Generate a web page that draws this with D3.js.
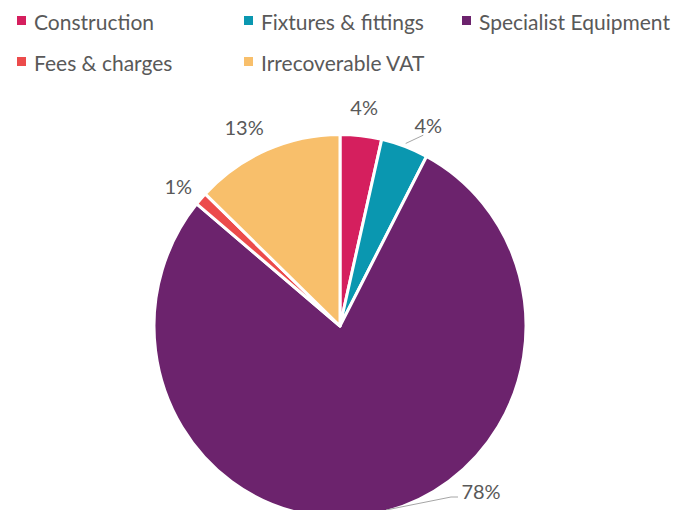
<!DOCTYPE html>
<html>
<head>
<meta charset="utf-8">
<script src="https://cdn.jsdelivr.net/npm/d3@7"></script>
<style>
  html, body { margin: 0; padding: 0; background: #fff; }
  svg { display: block; font-family: Lato, "Open Sans", sans-serif; }
</style>
</head>
<body>
<svg id="chart" width="675" height="510"></svg>
<script>
// data (share of cost, %)
var categories = ["Construction", "Fixtures & fittings", "Specialist Equipment", "Fees & charges", "Irrecoverable VAT"];
var values = [3.6, 4.1, 78.3, 1.1, 12.9];
var colors = ["#d51f5e", "#0a97b0", "#6c236d", "#ec4b4b", "#f8bf6b"];

var width = 675, height = 510;
var svg = d3.select("#chart");

// pie is slightly taller than wide in the picture
var cx = 340, cy = 326, radius = 186, yStretch = 1.03;

var color = d3.scaleOrdinal().domain(categories).range(colors);

var pie = d3.pie().sort(null).value(function(d) { return d.value; });
var data = categories.map(function(c, i) { return {name: c, value: values[i]}; });
var arcs = pie(data);

var arc = d3.arc().innerRadius(0).outerRadius(radius);
var total = d3.sum(values);

var g = svg.append("g").attr("transform", "translate(" + cx + "," + cy + ")");

g.append("g")
  .attr("transform", "scale(1," + yStretch + ")")
  .selectAll("path.slice")
  .data(arcs)
  .enter().append("path")
  .attr("class", "slice")
  .attr("d", arc)
  .attr("fill", function(d) { return color(d.data.name); })
  .attr("stroke", "#fff")
  .attr("stroke-width", 3)
  .attr("stroke-linejoin", "round");

// label placement: radius and angle nudge per slice (Excel best-fit look)
var labelR = [214, 214, 0, 211, 216];
var labelNudge = [0, 0.07, 0, -0.028, -0.055];
var pct = d3.format(".0%");

arcs.forEach(function(d, i) {
  var txt = pct(d.data.value / total);
  var mid = (d.startAngle + d.endAngle) / 2 + labelNudge[i];
  var x, y;
  if (labelR[i] > 0) {
    x = Math.sin(mid) * labelR[i];
    y = -Math.cos(mid) * labelR[i] * yStretch;
  } else {
    // big slice: bottom is cut off, label pushed to the lower right
    x = 141; y = 165;
  }
  g.append("text")
    .attr("x", x)
    .attr("y", y)
    .attr("text-anchor", "middle")
    .attr("dominant-baseline", "central")
    .attr("fill", "#595959")
    .attr("font-size", 20)
    .text(txt);

  // leader lines
  if (i === 1) {
    var a0 = (d.startAngle + d.endAngle) / 2;
    var p0 = [Math.sin(a0) * (radius + 3), -Math.cos(a0) * (radius + 3) * yStretch];
    var p1 = [x - 5, y + 10];
    g.append("path")
      .attr("d", d3.line()([p0, p1]))
      .attr("stroke", "#a6a6a6").attr("fill", "none").attr("stroke-width", 1);
  }
  if (i === 2) {
    g.append("path")
      .attr("d", d3.line()([[46, 184], [111, 171], [118, 171]]))
      .attr("stroke", "#a6a6a6").attr("fill", "none").attr("stroke-width", 1);
  }
});

// legend
var legendX = [17, 244, 462];
var legendRowY = [21, 62];
var legend = svg.append("g");
categories.forEach(function(c, i) {
  var col = i % 3, row = Math.floor(i / 3);
  var lg = legend.append("g")
    .attr("transform", "translate(" + legendX[col] + "," + legendRowY[row] + ")");
  lg.append("rect")
    .attr("x", 0).attr("y", -5)
    .attr("width", 9).attr("height", 9)
    .attr("fill", color(c));
  lg.append("text")
    .attr("x", 17).attr("y", 0)
    .attr("dominant-baseline", "central")
    .attr("fill", "#595959")
    .attr("font-size", 21)
    .text(c);
});
</script>
</body>
</html>
